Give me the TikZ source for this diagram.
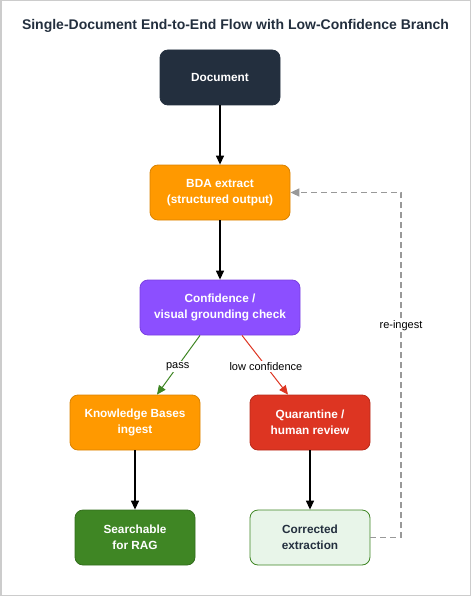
\documentclass[tikz,border=0pt]{standalone}
\usepackage{fontspec}
\setmainfont{Liberation Sans}
\usetikzlibrary{arrows.meta}
\definecolor{ink}{HTML}{232F3E}
\definecolor{awsorange}{HTML}{FF9900}
\definecolor{orangeedge}{HTML}{D98200}
\definecolor{awspurple}{HTML}{8C4FFF}
\definecolor{purpleedge}{HTML}{7A3FE0}
\definecolor{awsred}{HTML}{DD3522}
\definecolor{rededge}{HTML}{B82A1A}
\definecolor{awsgreen}{HTML}{3F8624}
\definecolor{greenedge}{HTML}{336E1D}
\definecolor{palegreen}{HTML}{E8F5E9}
\definecolor{framegray}{HTML}{CCCCCC}
\definecolor{dashgray}{HTML}{999999}
\tikzset{
  box/.style={draw, rounded corners=8pt, minimum height=55pt, align=center,
    font=\bfseries\fontsize{11.8}{15.5}\selectfont, line width=0.8pt, inner sep=2pt},
  darkbox/.style={box, fill=ink, draw=ink, text=white},
  orangebox/.style={box, fill=awsorange, draw=orangeedge, text=white},
  purplebox/.style={box, fill=awspurple, draw=purpleedge, text=white},
  redbox/.style={box, fill=awsred, draw=rededge, text=white},
  greenbox/.style={box, fill=awsgreen, draw=greenedge, text=white},
  lightbox/.style={box, fill=palegreen, draw=awsgreen, text=ink},
  flow/.style={line width=1.3pt, -{Triangle[width=8pt,length=9pt]}},
  lbl/.style={font=\fontsize{11}{13}\selectfont, fill=white, inner sep=1.5pt, text=black}
}
\begin{document}
\begin{tikzpicture}[x=1pt,y=-1pt]
\useasboundingbox (0,0) rectangle (471,596);
\draw[framegray, line width=1.5pt] (0.75,0.75) rectangle (470.25,595.25);
\node[font=\bfseries\fontsize{14}{16}\selectfont, text=ink] (title) at (235.5,26) {Single-Document End-to-End Flow with Low-Confidence Branch};
\node[darkbox, minimum width=120pt] (doc) at (220,77.5) {Document};
\node[orangebox, minimum width=140pt] (bda) at (220,192.5) {BDA extract\\(structured output)};
\node[purplebox, minimum width=160pt] (conf) at (220,307.5) {Confidence /\\visual grounding check};
\node[orangebox, minimum width=130pt] (kb) at (135,422.5) {Knowledge Bases\\ingest};
\node[redbox, minimum width=120pt] (quar) at (310,422.5) {Quarantine /\\human review};
\node[greenbox, minimum width=120pt] (rag) at (135,537.5) {Searchable\\for RAG};
\node[lightbox, minimum width=120pt] (corr) at (310,537.5) {Corrected\\extraction};
\coordinate (cb) at (401,537.5);
\coordinate (ct) at (401,192.5);
\draw[flow] (doc) -- (bda);
\draw[flow] (bda) -- (conf);
\draw[flow] (kb) -- (rag);
\draw[flow] (quar) -- (corr);
\draw[flow, awsgreen, line width=1pt] (conf.south -| 200,0) -- node[lbl, pos=0.52]{pass} (kb.north -| 157,0);
\draw[flow, awsred, line width=1pt] (conf.south -| 242,0) -- node[lbl, pos=0.52]{low confidence} (quar.north -| 288,0);
\draw[flow, dashgray, line width=1.6pt, dash pattern=on 6pt off 4pt] (corr.east) -- (cb) -- node[lbl, pos=0.615]{re-ingest} (ct) -- (bda.east);
\end{tikzpicture}
\end{document}
